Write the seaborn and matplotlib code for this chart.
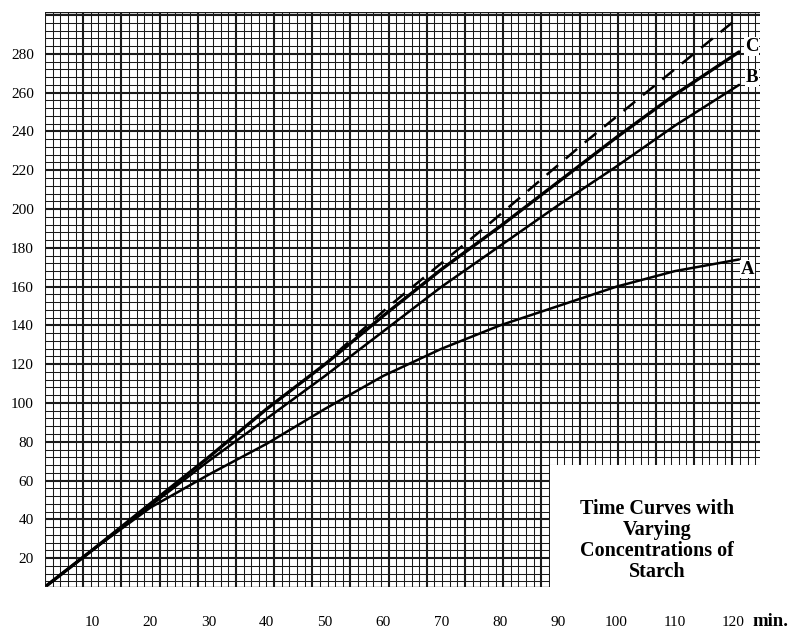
import matplotlib
matplotlib.use('Agg')
import matplotlib.pyplot as plt
from matplotlib.patches import Rectangle
import numpy as np
import seaborn as sns

# values (minutes vs. reading)
minutes = [2.3, 10, 20, 30, 40, 50, 60, 70, 80, 90, 100, 110, 121]
curve_a = [6, 24, 46, 63, 79, 97, 114, 128, 140, 150, 160, 168, 174]
curve_b = [6, 24, 47, 70, 92, 114, 137, 160, 181, 202, 222, 243, 264]
curve_c = [6, 24, 48, 72, 97, 120, 145, 169, 191, 214, 237, 259, 281]
dashed_minutes = [52, 61, 78, 94, 121]
dashed_values = [126, 150, 192, 233, 299]

x_ticks = [10, 20, 30, 40, 50, 60, 70, 80, 90, 100, 110, 120]
y_ticks = [20, 40, 60, 80, 100, 120, 140, 160, 180, 200, 220, 240, 260, 280]
curve_names = ['A', 'B', 'C']
title_lines = ['Time Curves with', 'Varying', 'Concentrations of', 'Starch']

sns.set_style('white')
plt.rcParams['font.family'] = ['Liberation Serif', 'DejaVu Serif']
plt.rcParams['text.color'] = 'black'
plt.rcParams['xtick.color'] = 'black'
plt.rcParams['ytick.color'] = 'black'

fig = plt.figure(figsize=(7.97, 6.29), dpi=100)
ax = fig.add_axes([45 / 797, 1 - 587 / 629, 715 / 797, 575 / 629])
x_lo, x_hi = 1.94, 124.6
y_lo, y_hi = 5.1, 301.6
ax.set_xlim(x_lo, x_hi)
ax.set_ylim(y_lo, y_hi)

# graph paper
paper_step = 1.31
for i, gx in enumerate(np.arange(x_lo, x_hi + 0.1, paper_step)):
    ax.axvline(gx, color='#1a1a1a', lw=1.5 if i % 5 == 0 else 0.75, zorder=0)
for gy in np.arange(8, y_hi, 4):
    ax.axhline(gy, color='#1a1a1a', lw=1.5 if gy % 20 == 0 else 0.75, zorder=0)
ax.axhline(y_lo, color='#1a1a1a', lw=1.0, zorder=0)
ax.axhline(y_hi, color='#1a1a1a', lw=1.0, zorder=0)
for s in ax.spines.values():
    s.set_visible(False)

# blank patch for the caption
ax.add_patch(Rectangle((0.706, -0.01), 0.3, 0.222, transform=ax.transAxes,
                       facecolor='white', edgecolor='none', zorder=1, clip_on=False))

sns.lineplot(x=minutes, y=curve_a, ax=ax, color='black', lw=1.8, zorder=3)
sns.lineplot(x=minutes, y=curve_b, ax=ax, color='black', lw=1.8, zorder=3)
sns.lineplot(x=minutes, y=curve_c, ax=ax, color='black', lw=2.4, zorder=3)
sns.lineplot(x=dashed_minutes, y=dashed_values, ax=ax, color='black', lw=1.8,
             zorder=3)
ax.lines[-1].set_dashes([6, 4])

offsets = {'A': (6, -7), 'B': (9, 5), 'C': (9, 4)}
for name, vals in zip(curve_names, [curve_a, curve_b, curve_c]):
    ax.annotate(name, xy=(minutes[-1], vals[-1]), xytext=offsets[name],
                textcoords='offset points', ha='center', va='center',
                fontsize=13.5, fontweight='bold', zorder=5,
                bbox=dict(facecolor='white', edgecolor='none', pad=0.5),
                annotation_clip=False)

ax.set_xticks(x_ticks)
ax.set_yticks(y_ticks)
ax.tick_params(axis='x', length=0, pad=21, labelsize=11)
ax.tick_params(axis='y', length=0, pad=8, labelsize=11)
ax.set_xlabel('')
ax.set_ylabel('')

fig.text(752 / 797, 1 - 621 / 629, 'min.', ha='left', va='center',
         fontsize=13.5, fontweight='bold')
fig.text(657 / 797, 1 - 540.5 / 629, '\n'.join(title_lines), ha='center',
         va='center', multialignment='center', fontsize=14.5,
         fontweight='bold', linespacing=1.05)

fig.savefig('out.png', dpi=100)
